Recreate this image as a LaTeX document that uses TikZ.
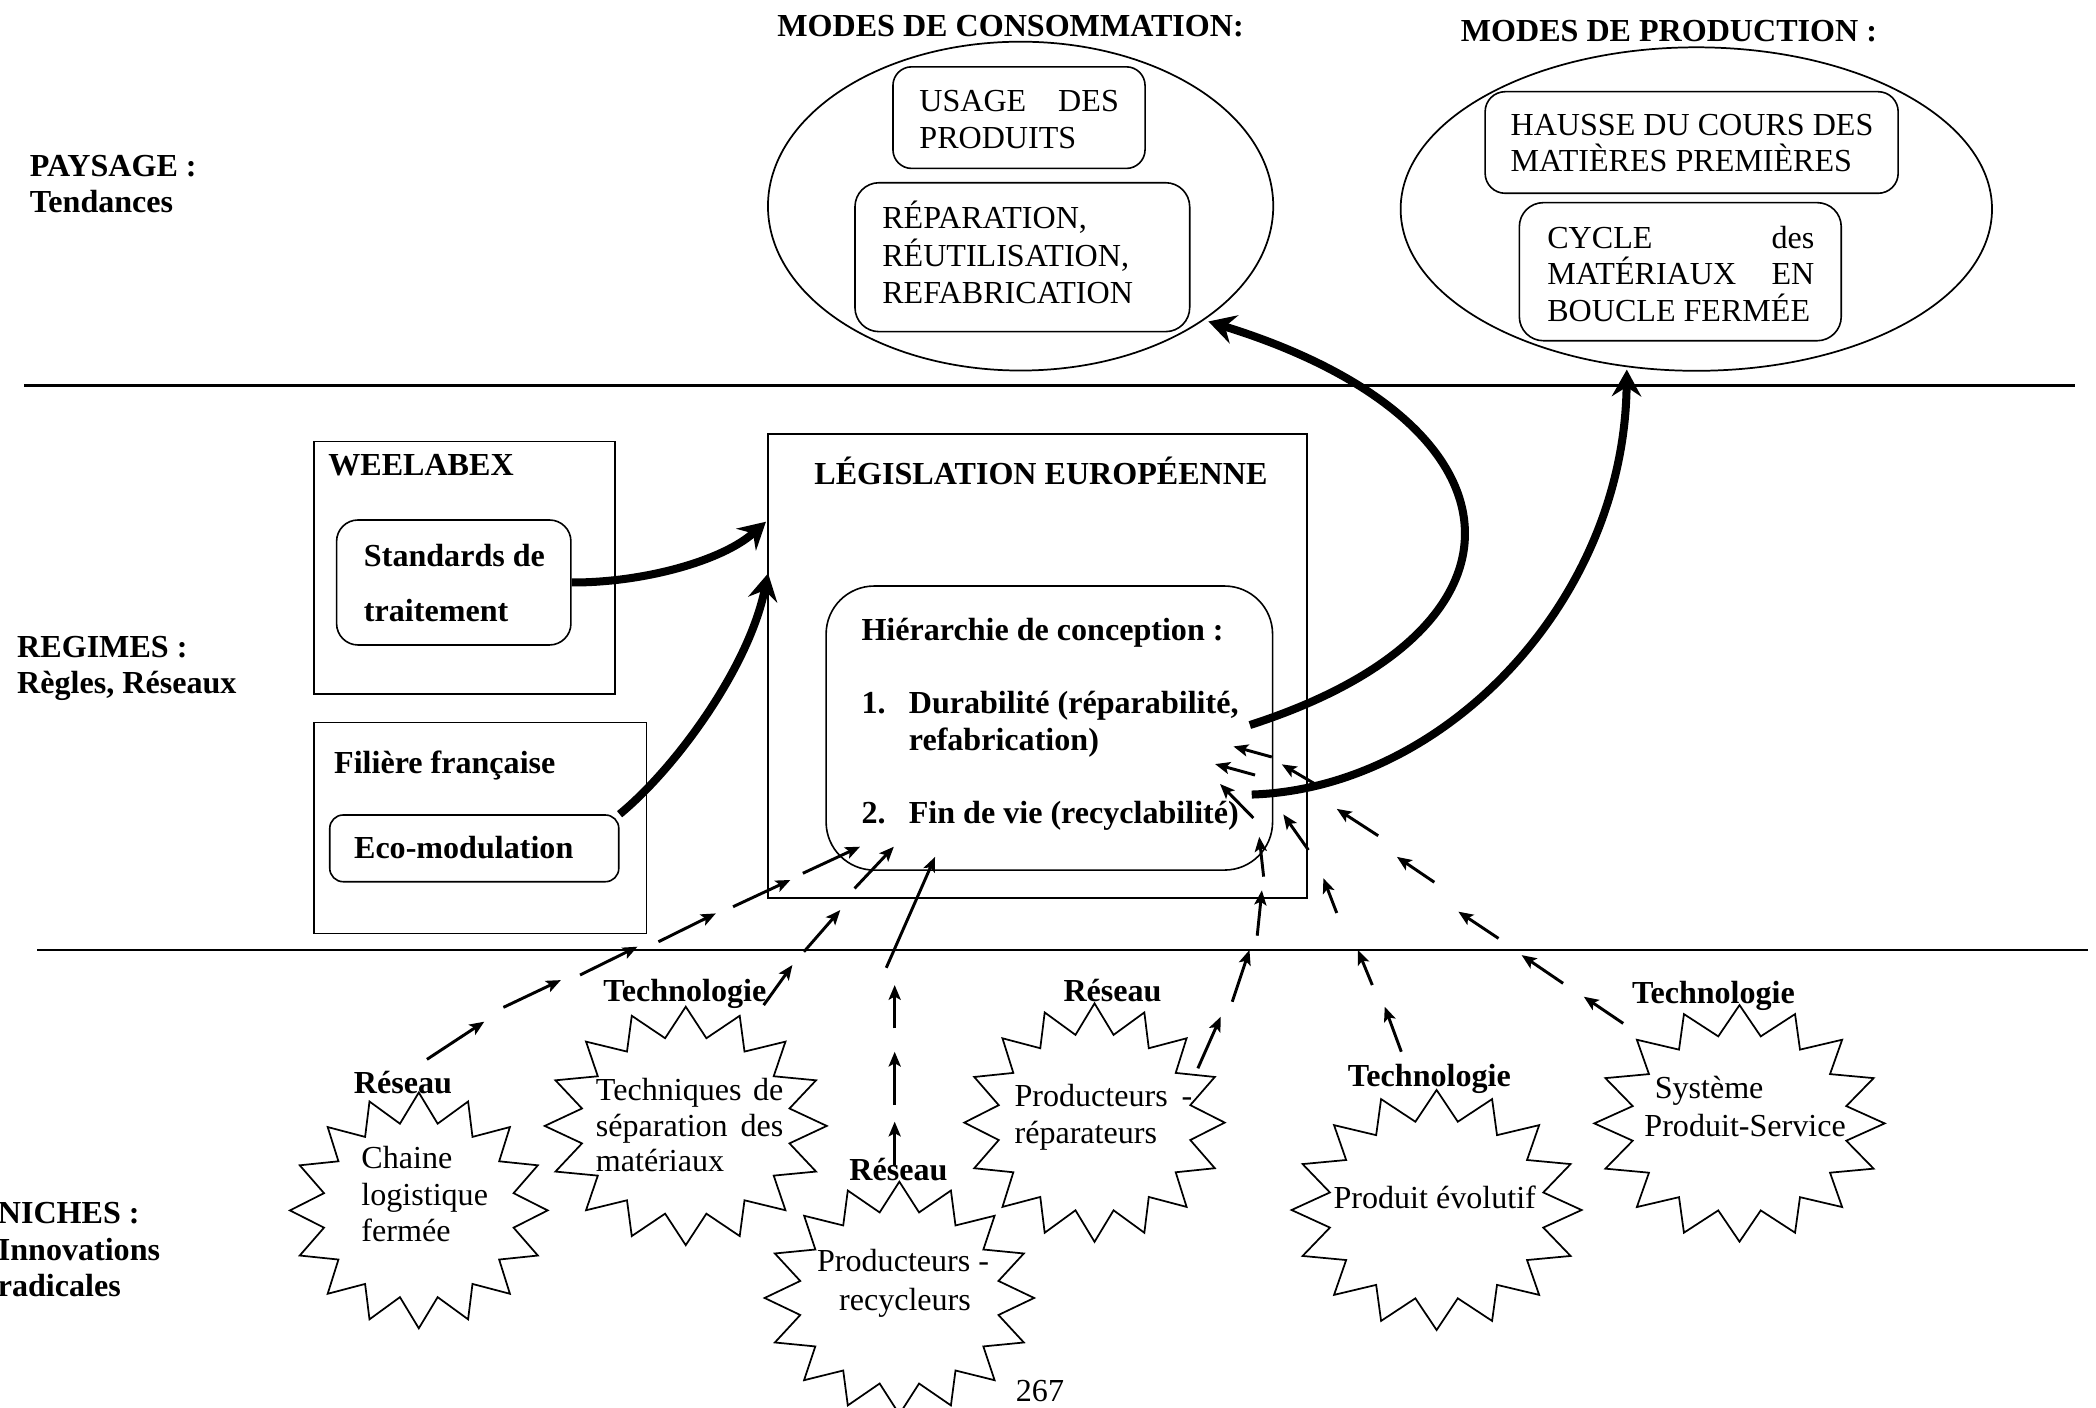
\documentclass[tikz,border=0pt]{standalone}
\usepackage{fontspec}
\setmainfont{Liberation Serif}
\usetikzlibrary{arrows.meta,shapes.geometric,fit}
\tikzset{
  T/.style={inner sep=0pt, anchor=base west, font=\fontsize{12}{14}\selectfont},
  B/.style={inner sep=0pt, anchor=base west, font=\fontsize{12}{14}\selectfont\bfseries},
  frame/.style={draw, line width=0.6pt, inner sep=0pt},
  rframe/.style={frame, rounded corners=#1},
  oval/.style={draw, ellipse, line width=0.65pt, inner sep=0pt},
  sepline/.style={line width=1pt},
  starline/.style={line width=0.65pt, line join=miter},
  bigarrow/.style={line width=3pt, -{Stealth[length=10pt,width=11pt,inset=3.5pt]}},
  smallarrow/.style={line width=1.1pt, -{Stealth[length=5.5pt,width=4.5pt,inset=1.2pt]}}
}
\newcommand\drawstar[4]{% cx cy rx ry
  \draw[starline] plot[samples=33,domain=0:32,variable=\k]
    ({#1+(0.875+0.125*cos(180*\k))*#3*cos(90+11.25*\k)},
     {#2-(0.875+0.125*cos(180*\k))*#4*sin(90+11.25*\k)}) -- cycle;
}
\begin{document}
\begin{tikzpicture}[x=0.5pt,y=-0.5pt]
\useasboundingbox (0,0) rectangle (1568,1053);

% separating lines
\draw[sepline] (18,288.5) -- (1552,288.5);
\draw[sepline] (28,710.7) -- (1562,710.7);

% level labels
\node[B] (pay1) at (22,132) {PAYSAGE :};
\node[B] (pay2) at (22,159) {Tendances};
\node[B] (reg1) at (12.5,491.5) {REGIMES :};
\node[B] (reg2) at (12.5,518.5) {Règles, Réseaux};
\node[B] (nic1) at (-2,915) {NICHES :};
\node[B] (nic2) at (-2,942.6) {Innovations};
\node[B] (nic3) at (-2,970) {radicales};

% landscape
\node[B, anchor=base] (hconso) at (756,27.5) {MODES DE CONSOMMATION:};
\node[B, anchor=base] (hprod) at (1248.5,31) {MODES DE PRODUCTION :};
\node[oval, minimum width=189pt, minimum height=123pt] (conso) at (763.5,154.2) {};
\node[oval, minimum width=221.2pt, minimum height=121pt] (prod) at (1269,156.4) {};

\node[rframe=7pt, fit={(668,50) (856.6,126)}] (usage) {};
\node[T] (usage1) at (687.4,83.5) {\makebox[74.6pt][s]{USAGE DES}};
\node[T] (usage2) at (687.4,111) {PRODUITS};

\node[rframe=9pt, fit={(639.6,136.7) (890,248.1)}] (repar) {};
\node[T] (repar1) at (659.6,171) {RÉPARATION,};
\node[T] (repar2) at (659.6,199) {RÉUTILISATION,};
\node[T] (repar3) at (659.6,227) {REFABRICATION};

\node[rframe=7.5pt, fit={(1111,68.6) (1420,144.6)}] (hausse) {};
\node[T] (hausse1) at (1129.7,101) {HAUSSE DU COURS DES};
\node[T] (hausse2) at (1129.7,128.4) {MATIÈRES PREMIÈRES};

\node[rframe=9pt, fit={(1136.6,151.6) (1377.4,254.9)}] (cycle) {};
\node[T] (cycle1) at (1157.1,185.8) {\makebox[99.9pt][s]{CYCLE des}};
\node[T] (cycle2) at (1157.1,213.2) {\makebox[99.9pt][s]{MATÉRIAUX EN}};
\node[T] (cycle3) at (1157.1,240.7) {BOUCLE FERMÉE};

% regimes
\node[frame, fit={(234.7,330.4) (460,519.2)}] (weel) {};
\node[B] (weelt) at (245.2,355.4) {WEELABEX};
\node[rframe=8pt, fit={(251.8,389) (427.1,482.5)}] (std) {};
\node[B] (std1) at (271.9,423.9) {Standards de};
\node[B] (std2) at (271.9,465.1) {traitement};

\node[frame, fit={(234.7,540.6) (483.7,698.2)}] (fil) {};
\node[B] (filt) at (249.6,578.5) {Filière française};
\node[rframe=5pt, fit={(246.7,609.7) (462.9,659.6)}] (eco) {};
\node[B] (ecot) at (264.5,642.1) {Eco-modulation};

\node[frame, fit={(574.5,324.7) (977.9,672)}] (leg) {};
\node[B, anchor=base] (legt) at (778.7,362.5) {LÉGISLATION EUROPÉENNE};
\node[rframe=18pt, fit={(618,438.4) (952,650.9)}] (hier) {};
\node[B] (hiert) at (644.1,478.8) {Hiérarchie de conception :};
\node[B] (n1) at (644.1,533.7) {1.};
\node[B] (d1) at (679.5,533.7) {Durabilité (réparabilité,};
\node[B] (d2) at (679.5,561.1) {refabrication)};
\node[B] (n2) at (644.1,616) {2.};
\node[B] (f1) at (679.5,616) {Fin de vie (recyclabilité)};

% named end points of the thick arrows
\coordinate (legA) at (573,390.3);
\coordinate (legB) at (574.6,428.9);
\coordinate (durS) at (935,542.4);
\coordinate (consoT) at (904,240.5);
\coordinate (finS) at (936.4,594.4);
\coordinate (prodT) at (1217,276.5);

\draw[bigarrow] (std.east) .. controls (480,436) and (540,420) .. (legA);
\draw[bigarrow] (eco.north east) .. controls (505,575) and (560,500) .. (legB);
\draw[bigarrow] (durS) .. controls (1160,470) and (1145,315) .. (consoT);
\draw[bigarrow] (finS) .. controls (1080,590) and (1215,450) .. (prodT);

% niches: stars
\drawstar{313.3}{905.5}{96.4}{88.2}
\drawstar{513}{842.3}{105.5}{89.2}
\drawstar{672.8}{971}{100.8}{87}
\drawstar{818.8}{839.8}{97.4}{89.2}
\drawstar{1074.7}{905.2}{108.5}{89.8}
\drawstar{1301.3}{840.4}{108.6}{88.5}

\node[B] (res1) at (264.4,818) {Réseau};
\node[T] (s1a) at (270,874) {Chaine};
\node[T] (s1b) at (270,901.5) {logistique};
\node[T] (s1c) at (270,929) {fermée};

\node[B] (tec2) at (451,749.4) {Technologie};
\node[T] (s2a) at (445.4,823) {\makebox[70.1pt][s]{Techniques de}};
\node[T] (s2b) at (445.4,850) {\makebox[70.1pt][s]{séparation des}};
\node[T] (s2c) at (445.4,876.5) {matériaux};

\node[B] (res3) at (635,882.8) {Réseau};
\node[T, anchor=base] (s3a) at (675.6,951.4) {Producteurs -};
\node[T, anchor=base] (s3b) at (677,980) {recycleurs};

\node[B] (res4) at (795.2,749.4) {Réseau};
\node[T] (s4a) at (758.6,827.9) {\makebox[66.5pt][s]{Producteurs -}};
\node[T] (s4b) at (758.6,855.3) {réparateurs};

\node[B] (tec5) at (1008,813) {Technologie};
\node[T] (s5a) at (997.2,904) {Produit évolutif};

\node[B] (tec6) at (1220.5,750.6) {Technologie};
\node[T] (s6a) at (1237.5,821.7) {Système};
\node[T] (s6b) at (1229.8,850.4) {Produit-Service};

\node[T, anchor=base] (page) at (778,1048.6) {267};

% segmented arrows
\foreach \a/\b/\c/\d in {
  319.4/792.5/362.3/764.3, 376.6/753.6/419.6/733.2, 433.9/729.4/476.9/708.2,
  492.6/704.5/535.5/683.3, 548.4/678.3/591.3/658.3, 600.6/653.3/643.4/633.4,
  571.3/751.9/592.8/721.9, 601.4/712/628.6/680.8, 639.3/664.6/668.7/633.4,
  669.3/871.5/669.3/839.1, 669.3/826.7/669.3/786.8, 669.3/769.3/669.3/736.9,
  663/724/699.5/641,
  896.1/799.2/913.2/760.6, 921.8/749.4/934.7/710.7, 940.5/700/944/666,
  945.3/655.8/942/626, 937.6/611.9/912.7/586.5,
  1048.3/786.8/1035.9/753.1, 1026.6/736.9/1015.8/710.7, 1000/683/990/657,
  978.8/635.9/960/609.2, 938.9/579.8/909/571.6,
  1214.3/765.6/1184.8/745.6, 1169.3/735.6/1138.3/714.5, 1121/702/1091/682,
  1073/660/1045/641, 1031/625.2/1000/605.1, 983.8/586.5/958.9/571.8,
  951.4/566.3/922.7/558.4}
  \draw[smallarrow] (\a,\b) -- (\c,\d);
\end{tikzpicture}
\end{document}
